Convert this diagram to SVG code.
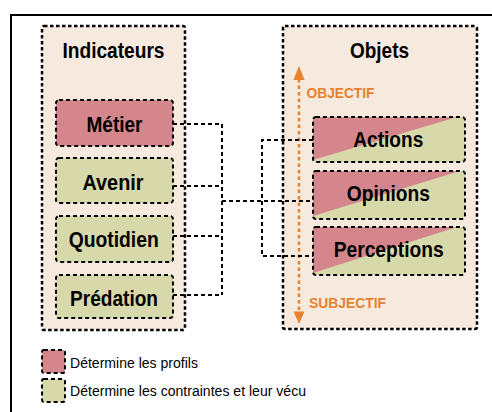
<svg xmlns="http://www.w3.org/2000/svg" width="492" height="412" viewBox="0 0 492 412">
<style>
.cont{fill:#f6eadf;stroke:#000;stroke-width:2.5;stroke-dasharray:3.5 2.5}
.box{stroke:#000;stroke-width:2;stroke-dasharray:4 3;fill:none}
.pink{fill:#d4868c}
.green{fill:#d8d9aa}
.big{font-family:"Liberation Sans Narrow","Liberation Sans",Arial,sans-serif;font-weight:bold;font-size:22px;fill:#000;text-anchor:middle}
.ori{font-family:"Liberation Sans",Arial,sans-serif;font-weight:bold;font-size:14px;fill:#e8812d}
.leg{font-family:"Liberation Sans",Arial,sans-serif;font-size:14px;fill:#000}
.conn{fill:none;stroke:#000;stroke-width:2;stroke-dasharray:4 3}
</style>
<rect width="492" height="412" fill="#fff"/>
<path d="M11 412 V15 H492" fill="none" stroke="#000" stroke-width="2"/>

<g id="indicateurs">
<rect class="cont" x="42" y="26" width="143" height="304" rx="2"/>
<text class="big" x="113.5" y="57.5" textLength="102" lengthAdjust="spacingAndGlyphs">Indicateurs</text>
</g>
<g id="objets">
<rect class="cont" x="283" y="26" width="194" height="303" rx="2"/>
<text class="big" x="379.5" y="57.5" textLength="59" lengthAdjust="spacingAndGlyphs">Objets</text>
</g>

<g id="axis">
<line x1="299" y1="79" x2="299" y2="313" stroke="#e8812d" stroke-width="2.5" stroke-dasharray="3.5 3"/>
<polygon points="299,66 293.5,80 304.5,80" fill="#e8812d"/>
<polygon points="299,324 293.5,311.5 304.5,311.5" fill="#e8812d"/>
<text class="ori" x="306.5" y="97.7" textLength="68" lengthAdjust="spacingAndGlyphs">OBJECTIF</text>
<text class="ori" x="309" y="308.3" textLength="77" lengthAdjust="spacingAndGlyphs">SUBJECTIF</text>
</g>

<g id="connectors">
<path class="conn" d="M173 124 H222 V295 M173 186 H222 M173 236 H222 M173 295 H222"/>
<path class="conn" d="M222 201 H313 M313 140 H262 V256 H313"/>
</g>

<g id="metier">
<rect class="pink" x="56" y="100" width="117" height="46" rx="3"/>
<rect class="box" x="56" y="100" width="117" height="46" rx="3"/>
<text class="big" x="114.5" y="131.7" textLength="56" lengthAdjust="spacingAndGlyphs">Métier</text>
</g>
<g id="avenir">
<rect class="green" x="56" y="158" width="117" height="45" rx="3"/>
<rect class="box" x="56" y="158" width="117" height="45" rx="3"/>
<text class="big" x="113" y="190" textLength="61" lengthAdjust="spacingAndGlyphs">Avenir</text>
</g>
<g id="quotidien">
<rect class="green" x="56" y="216" width="117" height="46" rx="3"/>
<rect class="box" x="56" y="216" width="117" height="46" rx="3"/>
<text class="big" x="113.7" y="247" textLength="90" lengthAdjust="spacingAndGlyphs">Quotidien</text>
</g>
<g id="predation">
<rect class="green" x="56" y="275" width="117" height="43" rx="3"/>
<rect class="box" x="56" y="275" width="117" height="43" rx="3"/>
<text class="big" x="114" y="305.7" textLength="88" lengthAdjust="spacingAndGlyphs">Prédation</text>
</g>

<g id="actions">
<rect class="green" x="313" y="117" width="152" height="45" rx="3"/>
<polygon class="pink" points="313,117 457,117 313,160"/>
<rect class="box" x="313" y="117" width="152" height="45" rx="3"/>
<text class="big" x="388.3" y="147.3" textLength="70" lengthAdjust="spacingAndGlyphs">Actions</text>
</g>
<g id="opinions">
<rect class="green" x="313" y="171" width="152" height="48" rx="3"/>
<polygon class="pink" points="313,171 460,171 313,216"/>
<rect class="box" x="313" y="171" width="152" height="48" rx="3"/>
<text class="big" x="388.3" y="200.7" textLength="83" lengthAdjust="spacingAndGlyphs">Opinions</text>
</g>
<g id="perceptions">
<rect class="green" x="313" y="227" width="152" height="48" rx="3"/>
<polygon class="pink" points="313,227 457,227 313,273"/>
<rect class="box" x="313" y="227" width="152" height="48" rx="3"/>
<text class="big" x="388.7" y="256.7" textLength="110" lengthAdjust="spacingAndGlyphs">Perceptions</text>
</g>

<g id="legend">
<rect class="pink" x="42" y="350" width="23" height="23" rx="2"/>
<rect class="box" x="42" y="350" width="23" height="23" rx="2"/>
<text class="leg" x="70" y="367.5" textLength="128" lengthAdjust="spacingAndGlyphs">Détermine les profils</text>
<rect class="green" x="42" y="379" width="23" height="23" rx="2"/>
<rect class="box" x="42" y="379" width="23" height="23" rx="2"/>
<text class="leg" x="70" y="396" textLength="236" lengthAdjust="spacingAndGlyphs">Détermine les contraintes et leur vécu</text>
</g>
</svg>
